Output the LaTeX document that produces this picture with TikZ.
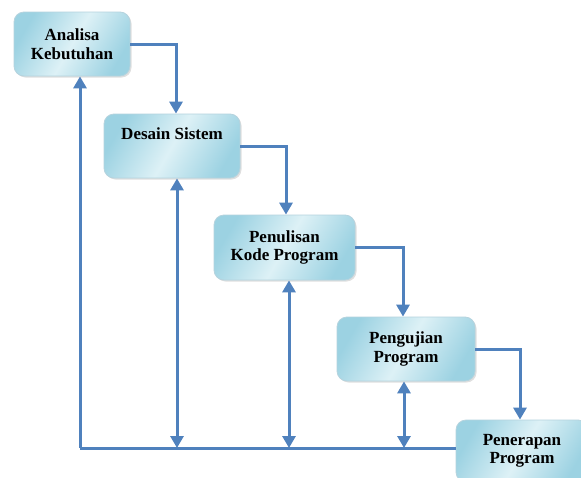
\documentclass[tikz,border=0pt]{standalone}
\usepackage{fontspec}
\setmainfont{Liberation Serif}
\usetikzlibrary{arrows.meta,shadows}
\definecolor{lineblue}{HTML}{4F81BD}
\definecolor{boxdark}{HTML}{9CD2E2}
\definecolor{boxlight}{HTML}{DDF1F6}
\definecolor{boxedge}{HTML}{B5D3DE}
\begin{document}
\begin{tikzpicture}[x=1pt,y=-1pt,
  stagebox/.style={draw=boxedge, line width=0.8pt, rounded corners=10pt,
    left color=boxdark, right color=boxdark, middle color=boxlight, shading angle=60,
    drop shadow={opacity=0.25, shadow xshift=1.5pt, shadow yshift=-1.5pt},
    align=center, font=\fontsize{17}{18.5}\selectfont\bfseries, text=black, inner sep=0pt},
  flow/.style={draw=lineblue, line width=3pt, -{Triangle[length=12pt,width=13pt]}},
  both/.style={draw=lineblue, line width=3pt, {Triangle[length=12pt,width=13pt]}-{Triangle[length=12pt,width=13pt]}},
  plain/.style={draw=lineblue, line width=3pt}]
\clip (0,0) rectangle (581,477);
\useasboundingbox (0,0) rectangle (581,477);
\fill[white] (0,0) rectangle (581,477);

\node[stagebox, minimum width=116pt, minimum height=64pt] (A) at (72,44) {Analisa\\Kebutuhan};
\node[stagebox, minimum width=136pt, minimum height=64pt] (D) at (172,146) {Desain Sistem\\\strut};
\node[stagebox, minimum width=141pt, minimum height=65pt] (P) at (284.5,247.5) {Penulisan\\Kode Program};
\node[stagebox, minimum width=138pt, minimum height=64pt] (U) at (406,349) {Pengujian\\Program};
\node[stagebox, minimum width=132pt, minimum height=62pt] (E) at (522,451) {Penerapan\\Program};

% forward flow
\coordinate (dtop) at ([xshift=4pt]D.north);
\coordinate (ptop) at ([xshift=1.5pt]P.north);
\coordinate (utop) at ([xshift=-3pt]U.north);
\coordinate (etop) at ([xshift=-2pt]E.north);
\draw[flow] (A.east) -| (dtop);
\draw[flow] (D.east) -| (ptop);
\draw[flow] (P.east) -| (utop);
\draw[flow] (U.east) -| (etop);

% feedback line
\coordinate (bl) at (80,448);
\coordinate (er) at (E.west |- bl);
\draw[plain] (er) -- (bl);
\draw[flow] (bl) -- (bl |- A.south);

\coordinate (d1) at ([xshift=5pt]D.south);
\coordinate (p1) at ([xshift=4.5pt]P.south);
\coordinate (u1) at ([xshift=-2pt]U.south);
\draw[both] (d1) -- (d1 |- bl);
\draw[both] (p1) -- (p1 |- bl);
\draw[both] (u1) -- (u1 |- bl);
\end{tikzpicture}
\end{document}
